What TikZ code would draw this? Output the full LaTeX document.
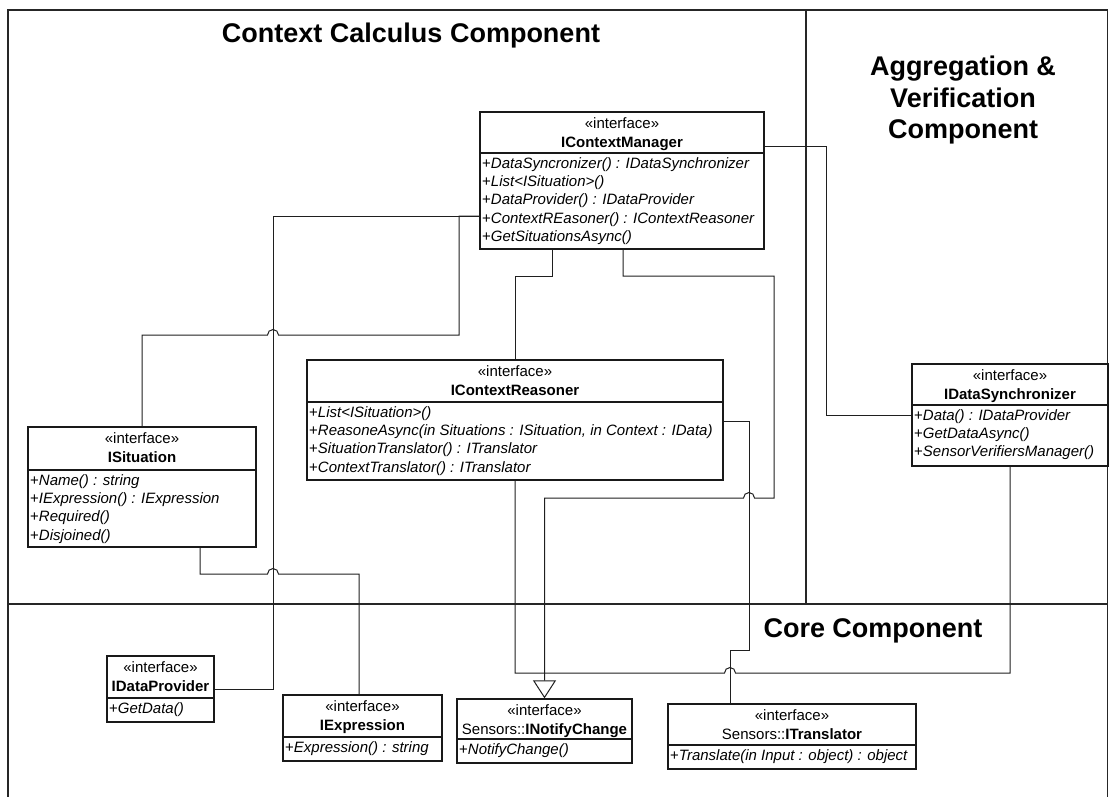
\documentclass[tikz,border=0pt]{standalone}
\usepackage{fontspec}
\setmainfont{Liberation Sans}
\usetikzlibrary{arrows.meta,fit}

\tikzset{
  frame/.style={line width=1.6pt, black!85},
  classbox/.style={draw, line width=1.3pt, inner sep=0pt, black!90},
  divider/.style={line width=1.3pt, black!90},
  link/.style={line width=1pt, black!88},
  boxtext/.style={inner sep=0pt, text=black, font=\fontsize{15}{18.4}\selectfont},
  title/.style={inner sep=0pt, font=\fontsize{27}{31.5}\selectfont\bfseries},
  realize/.style={-{Triangle[length=18pt, width=23pt, fill=white]}}
}

% UML interface box:
% #1 name, #2 left, #3 top, #4 right, #5 compartment line, #6 bottom,
% #7 class name line, #8 operations
\newcommand\umlclass[8]{%
  \coordinate (#1-nw) at (#2,#3);
  \coordinate (#1-se) at (#4,#6);
  \node[classbox, fit=(#1-nw)(#1-se)] (#1) {};
  \draw[divider] (#2,#5) -- (#4,#5);
  \node[boxtext, anchor=base] (#1-st) at ({(#2+#4)/2},{#3+16}) {«interface»};
  \node[boxtext, anchor=base] (#1-nm) at ({(#2+#4)/2},{#3+35}) {#7};
  \foreach \row [count=\i] in {#8} {
    \node[boxtext, anchor=base west] (#1-r\i) at ({#2+2},{#5+15+18.4*(\i-1)}) {+\textit{\row}};
  }%
}

\begin{document}
\begin{tikzpicture}[x=1pt, y=-1pt]
\useasboundingbox (0,0) rectangle (1109,796);

% component frames
\draw[frame] (8,10) rectangle (1107.5,810);
\draw[frame] (806,10) -- (806,604);
\draw[frame] (8,604) -- (1107.5,604);

\node[title, anchor=base] (cc-title) at (411,42) {Context Calculus Component};
\node[title, anchor=base] (av-title-a) at (963,75) {Aggregation \&};
\node[title, anchor=base] (av-title-b) at (963,107) {Verification};
\node[title, anchor=base] (av-title-c) at (963,138) {Component};
\node[title, anchor=base] (core-title) at (873,637) {Core Component};

% interfaces
\umlclass{icm}{480}{112}{764}{153}{249}{\textbf{IContextManager}}
  {DataSyncronizer() : IDataSynchronizer, List<ISituation>(), DataProvider() : IDataProvider,
   ContextREasoner() : IContextReasoner, GetSituationsAsync()}
\umlclass{icr}{307}{360}{723}{402}{480}{\textbf{IContextReasoner}}
  {List<ISituation>(), {ReasoneAsync(in Situations : ISituation, in Context : IData)},
   SituationTranslator() : ITranslator, ContextTranslator() : ITranslator}
\umlclass{isit}{28}{427}{256}{470}{547}{\textbf{ISituation}}
  {Name() : string, IExpression() : IExpression, Required(), Disjoined()}
\umlclass{ids}{912}{364}{1108}{405}{466}{\textbf{IDataSynchronizer}}
  {Data() : IDataProvider, GetDataAsync(), SensorVerifiersManager()}
\umlclass{idp}{107}{656}{214}{698}{722}{\textbf{IDataProvider}}
  {GetData()}
\umlclass{iexp}{283}{695}{442}{737}{761}{\textbf{IExpression}}
  {Expression() : string}
\umlclass{inc}{457}{699}{632}{739}{763}{Sensors::\textbf{INotifyChange}}
  {NotifyChange()}
\umlclass{itr}{668}{704}{916}{745}{769}{Sensors::\textbf{ITranslator}}
  {Translate(in Input : object) : object}

% associations
\draw[link] (icm.west |- 0,216) -- (273,216) -- (273,689) -- (idp.east |- 0,689);
\draw[link] (icm.west |- 0,216) -- (459,216) -- (459,335) -- (278.5,335)
  arc[start angle=0, end angle=180, radius=5.5pt] -- (isit.north |- 0,335) -- (isit.north);
\draw[link] (552,0 |- icm.south) -- (552,276) -- (icr.north |- 0,276) -- (icr.north);
\draw[link, realize] (623,0 |- icm.south) -- (623,276) -- (774,276) -- (774,498) -- (754.5,498)
  arc[start angle=0, end angle=180, radius=5.5pt] -- (inc.north |- 0,498) -- (inc.north);
\draw[link] (icr.east |- 0,421) -- (749,421) -- (749,650) -- (730,650) -- (730,0 |- itr.north);
\draw[link] (icr.south) -- (515,673) -- (724.5,673)
  arc[start angle=180, end angle=0, radius=5.5pt] -- (1010,673) -- (1010,0 |- ids.south);
\draw[link] (isit.south -| 200,0) -- (200,574) -- (267.5,574)
  arc[start angle=180, end angle=0, radius=5.5pt] -- (359,574) -- (359,0 |- iexp.north);
\draw[link] (icm.east |- 0,146) -- (826,146) -- (826,415) -- (ids.west |- 0,415);
\end{tikzpicture}
\end{document}
